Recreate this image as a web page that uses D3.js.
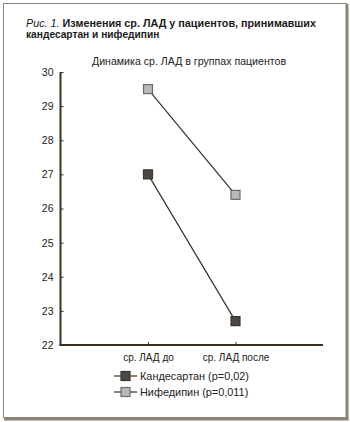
<!DOCTYPE html>
<html><head><meta charset="utf-8">
<script src="https://cdn.jsdelivr.net/npm/d3@7"></script>
<style>body{margin:0;background:#fff}svg{display:block;font-family:"Liberation Sans",Arial,sans-serif}</style>
</head><body>
<script>
const categories = ["ср. ЛАД до", "ср. ЛАД после"];
const seriesNames = ["Кандесартан (p=0,02)", "Нифедипин (p=0,011)"];
const candesartan = [27.0, 22.7];
const nifedipin = [29.5, 26.4];
const yTicks = [22, 23, 24, 25, 26, 27, 28, 29, 30];
const colors = ["#4d4844", "#b9b8b6"];
const strokeCols = ["#3a3530", "#6e6a66"];

const W = 350, H = 422;
const svg = d3.select("body").append("svg").attr("width", W).attr("height", H);

// frame
svg.append("rect").attr("x", 3.5).attr("y", 3.5).attr("width", 343).attr("height", 414)
  .attr("fill", "none").attr("stroke", "#8c8478").attr("stroke-width", 1);
svg.append("line").attr("x1", 347).attr("x2", 347).attr("y1", 4).attr("y2", 420).attr("stroke", "#8c8478").attr("stroke-width", 3);
svg.append("line").attr("x1", 4).attr("x2", 348.5).attr("y1", 419).attr("y2", 419).attr("stroke", "#8c8478").attr("stroke-width", 3);

// title
const t1 = svg.append("text").attr("x", 26).attr("y", 26.5).attr("font-size", 10).attr("fill", "#1a1a1a")
  .attr("textLength", 290).attr("lengthAdjust", "spacingAndGlyphs");
t1.append("tspan").attr("font-style", "italic").text("Рис. 1. ");
t1.append("tspan").attr("font-weight", "bold").text("Изменения ср. ЛАД у пациентов, принимавших");
svg.append("text").attr("x", 26).attr("y", 38).attr("font-size", 10.2).attr("font-weight", "bold").attr("fill", "#1a1a1a")
  .text("кандесартан и нифедипин");

svg.append("text").attr("x", 189).attr("y", 65).attr("text-anchor", "middle").attr("font-size", 10.6).attr("fill", "#222")
  .text("Динамика ср. ЛАД в группах пациентов");

const x0 = 60.5, x1 = 323, yTop = 72, yBot = 345;
const x = d3.scalePoint().domain(categories).range([x0, x1]).padding(1);
const y = d3.scaleLinear().domain([22, 30]).range([yBot, yTop]);

const g = svg.append("g");
const yAxis = g.append("g").attr("transform", `translate(${x0},0)`)
  .call(d3.axisLeft(y).tickValues(yTicks).tickSize(-3).tickPadding(7).tickFormat(d3.format("d")));
yAxis.select(".domain").remove();
yAxis.selectAll("line").attr("stroke", "#3a3020");
yAxis.selectAll("text").attr("font-size", 10.5).attr("fill", "#222").attr("font-family", "Liberation Sans, Arial, sans-serif");

const xAxis = g.append("g").attr("transform", `translate(0,${yBot})`)
  .call(d3.axisBottom(x).tickSize(-3).tickPadding(9));
xAxis.select(".domain").remove();
xAxis.selectAll("line").attr("stroke", "#3a3020");
xAxis.selectAll("text").attr("font-size", 10).attr("fill", "#222").attr("font-family", "Liberation Sans, Arial, sans-serif");

g.append("line").attr("x1", x0).attr("x2", x0).attr("y1", yTop).attr("y2", yBot + 1).attr("stroke", "#3a3020").attr("stroke-width", 2);
g.append("line").attr("x1", x0 - 1).attr("x2", x1).attr("y1", yBot).attr("y2", yBot).attr("stroke", "#3a3020").attr("stroke-width", 2);

const series = [candesartan, nifedipin];
const line = d3.line().x((d, i) => x(categories[i])).y(d => y(d));
series.forEach((s, k) => {
  svg.append("path").attr("d", line(s)).attr("fill", "none").attr("stroke", "#3a3020").attr("stroke-width", 1.2);
});
series.forEach((s, k) => {
  svg.selectAll(null).data(s).enter().append("rect")
    .attr("x", (d, i) => x(categories[i]) - 4.5).attr("y", d => y(d) - 4.5)
    .attr("width", 9).attr("height", 9)
    .attr("fill", colors[k]).attr("stroke", strokeCols[k]).attr("stroke-width", 1.2);
});

// legend
seriesNames.forEach((name, k) => {
  const ly = 376 + k * 16;
  svg.append("line").attr("x1", 114).attr("x2", 137).attr("y1", ly).attr("y2", ly).attr("stroke", "#3a3020").attr("stroke-width", 1.2);
  svg.append("rect").attr("x", 121).attr("y", ly - 4.5).attr("width", 9).attr("height", 9)
    .attr("fill", colors[k]).attr("stroke", strokeCols[k]).attr("stroke-width", 1.2);
  svg.append("text").attr("x", 140).attr("y", ly + 4).attr("font-size", 10.9).attr("fill", "#222").text(name);
});
</script>
</body></html>
